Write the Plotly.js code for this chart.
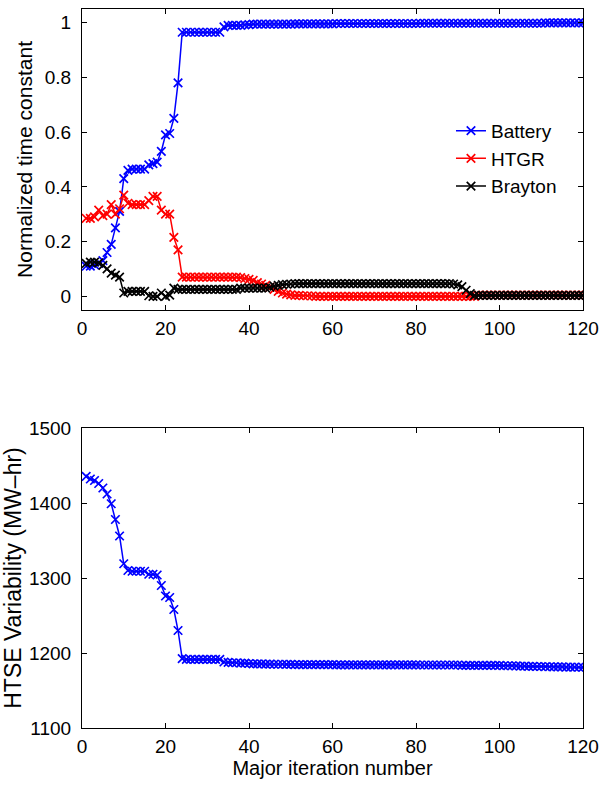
<!DOCTYPE html>
<html>
<head>
<meta charset="utf-8">
<script src="https://cdn.plot.ly/plotly-3.0.1.min.js"></script>
<style>html,body{margin:0;padding:0;background:#fff;}#chart{width:612px;height:785px;}</style>
</head>
<body>
<div id="chart"></div>
<script>
var iterations = [1,2,3,4,5,6,7,8,9,10,11,12,13,14,15,16,17,18,19,20,
21,22,23,24,25,26,27,28,29,30,31,32,33,34,35,36,37,38,39,40,
41,42,43,44,45,46,47,48,49,50,51,52,53,54,55,56,57,58,59,60,
61,62,63,64,65,66,67,68,69,70,71,72,73,74,75,76,77,78,79,80,
81,82,83,84,85,86,87,88,89,90,91,92,93,94,95,96,97,98,99,100,
101,102,103,104,105,106,107,108,109,110,111,112,113,114,115,116,117,118,119,120];

var battery = [0.11,0.11,0.115,0.12,0.13,0.16,0.19,0.25,0.31,0.43,
0.46,0.465,0.465,0.465,0.465,0.48,0.485,0.49,0.53,0.59,
0.595,0.65,0.78,0.965,0.965,0.965,0.965,0.965,0.965,0.965,
0.965,0.965,0.965,0.985,0.99,0.99,0.99,0.99,0.992,0.993,
0.995,0.995,0.995,0.995,0.995,0.995,0.995,0.995,0.995,0.995,
0.996,0.996,0.996,0.996,0.996,0.996,0.996,0.996,0.996,0.996,
0.997,0.997,0.997,0.997,0.997,0.997,0.997,0.997,0.997,0.997,
0.997,0.997,0.997,0.997,0.997,0.997,0.997,0.997,0.997,0.997,
0.998,0.998,0.998,0.998,0.998,0.998,0.998,0.998,0.998,0.998,
0.998,0.998,0.998,0.998,0.998,0.998,0.998,0.998,0.998,0.998,
0.998,0.998,0.998,0.998,0.998,0.998,0.998,0.998,0.998,0.998,
0.999,0.999,0.999,0.999,0.999,0.999,0.999,0.999,0.999,0.999];

var htgr = [0.285,0.285,0.29,0.315,0.295,0.30,0.335,0.30,0.32,0.37,
0.34,0.335,0.335,0.335,0.335,0.35,0.365,0.365,0.315,0.30,
0.30,0.215,0.17,0.07,0.07,0.07,0.07,0.07,0.07,0.07,
0.07,0.07,0.07,0.07,0.07,0.07,0.07,0.068,0.065,0.062,
0.058,0.05,0.045,0.04,0.033,0.025,0.018,0.012,0.008,0.005,
0.003,0.003,0.002,0.002,0.001,0,0,0,0,0,
0,0,0,0,0,0,0,0,0,0,
0,0,0,0,0,0,0,0,0,0,
0,0,0,0,0,0,0,0,0,0,
0,0,0,0,0.004,0.004,0.004,0.004,0.004,0.004,
0.004,0.004,0.004,0.004,0.004,0.004,0.004,0.004,0.004,0.004,
0.004,0.004,0.004,0.004,0.004,0.004,0.004,0.004,0.004,0.004];

var brayton = [0.12,0.125,0.125,0.122,0.113,0.10,0.085,0.077,0.07,0.012,
0.018,0.018,0.018,0.018,0.018,0.002,0,0,0.012,0,
0.004,0.03,0.025,0.025,0.025,0.025,0.025,0.025,0.025,0.025,
0.025,0.025,0.025,0.025,0.025,0.025,0.025,0.03,0.03,0.03,
0.03,0.03,0.03,0.03,0.033,0.037,0.04,0.043,0.044,0.045,
0.046,0.046,0.046,0.046,0.046,0.046,0.046,0.046,0.046,0.046,
0.046,0.046,0.046,0.046,0.046,0.046,0.046,0.046,0.046,0.046,
0.046,0.046,0.046,0.046,0.046,0.046,0.046,0.046,0.046,0.046,
0.046,0.046,0.046,0.046,0.046,0.046,0.046,0.046,0.045,0.042,
0.035,0.022,0.01,0.003,0.003,0.003,0.003,0.003,0.003,0.003,
0.003,0.003,0.003,0.003,0.003,0.003,0.003,0.003,0.003,0.003,
0.003,0.003,0.003,0.003,0.003,0.003,0.003,0.003,0.003,0.003];

var htse = [1435.5,1432,1430,1426,1420,1412,1399,1378,1356,1319,
1310,1309,1309,1309,1309,1305,1305,1304,1290,1276,
1274,1258,1230,1192.5,1191.5,1191.5,1191.5,1191.5,1191.5,1191.5,
1191.5,1191.5,1191.5,1188,1187.5,1187,1187,1186.5,1186.5,1186,
1185.5,1185.5,1185.5,1185.2,1185.2,1185,1185,1185,1184.8,1184.8,
1184.5,1184.5,1184.5,1184.5,1184.5,1184.5,1184.5,1184.5,1184.5,1184.5,
1184.3,1184.3,1184.3,1184.3,1184.3,1184.3,1184.3,1184.3,1184.3,1184.3,
1184.2,1184.2,1184.2,1184.2,1184.2,1184.2,1184.2,1184.2,1184.2,1184.2,
1184,1184,1184,1184,1184,1184,1184,1184,1184,1184,
1183.5,1183.5,1183.5,1183.5,1183.5,1183.5,1183.5,1183.5,1183.5,1183.5,
1183,1183,1183,1182.8,1182.5,1182.5,1182.3,1182.2,1182,1182,
1181.8,1181.7,1181.6,1181.5,1181.4,1181.3,1181.2,1181.1,1181,1181];

var seriesNames = ['Battery', 'HTGR', 'Brayton'];
var xTicks = [0, 20, 40, 60, 80, 100, 120];
var yTicksTop = [0, 0.2, 0.4, 0.6, 0.8, 1];
var yTicksBottom = [1100, 1200, 1300, 1400, 1500];

var FONT = 'Liberation Sans, Arial, Helvetica, sans-serif';

function mk(y, name, color, xa, ya, showleg) {
  return {
    x: iterations, y: y, name: name, type: 'scatter', mode: 'lines+markers',
    xaxis: xa, yaxis: ya, showlegend: showleg,
    line: {color: color, width: 1.5},
    marker: {symbol: 'x-thin-open', size: 8.5, color: color, line: {color: color, width: 1.7}}
  };
}

var traces = [
  mk(battery, seriesNames[0], '#0000ff', 'x', 'y', true),
  mk(htgr, seriesNames[1], '#ff0000', 'x', 'y', true),
  mk(brayton, seriesNames[2], '#000000', 'x', 'y', true),
  mk(htse, 'HTSE', '#0000ff', 'x2', 'y2', false)
];

function axisBase() {
  return {
    showline: true, linecolor: '#000', linewidth: 1, mirror: 'ticks',
    ticks: 'inside', ticklen: 5, tickcolor: '#000', tickwidth: 1,
    showgrid: false, zeroline: false,
    tickfont: {family: FONT, size: 19, color: '#000'}
  };
}

var xa1 = Object.assign(axisBase(), {domain: [0, 1], range: [0, 120], tickvals: xTicks, anchor: 'y', ticklabelstandoff: 1});
var ya1 = Object.assign(axisBase(), {domain: [0.5814, 1], range: [-0.05, 1.05], tickvals: yTicksTop, anchor: 'x', ticklabelstandoff: 6,
  title: {text: 'Normalized time constant', font: {family: FONT, size: 21, color: '#000'}, standoff: 6}});
var xa2 = Object.assign(axisBase(), {domain: [0, 1], range: [0, 120], tickvals: xTicks, anchor: 'y2', ticklabelstandoff: 1,
  title: {text: 'Major iteration number', font: {family: FONT, size: 20, color: '#000'}, standoff: 3}});
var ya2 = Object.assign(axisBase(), {domain: [0, 0.4172], range: [1100, 1500], tickvals: yTicksBottom, anchor: 'x2', ticklabelstandoff: 6,
  title: {text: 'HTSE Variability (MW–hr)', font: {family: FONT, size: 23, color: '#000'}, standoff: 4}});

var layout = {
  width: 612, height: 785,
  margin: {l: 82, r: 29, t: 9, b: 57, pad: 0},
  paper_bgcolor: '#fff', plot_bgcolor: '#fff',
  showlegend: true,
  legend: {x: 0.7365, y: 0.857, xanchor: 'left', yanchor: 'top', bgcolor: 'rgba(0,0,0,0)',
    font: {family: FONT, size: 19, color: '#000'}, tracegroupgap: 0},
  xaxis: xa1, yaxis: ya1, xaxis2: xa2, yaxis2: ya2
};

Plotly.newPlot('chart', traces, layout, {displayModeBar: false, staticPlot: true});
</script>
</body>
</html>
